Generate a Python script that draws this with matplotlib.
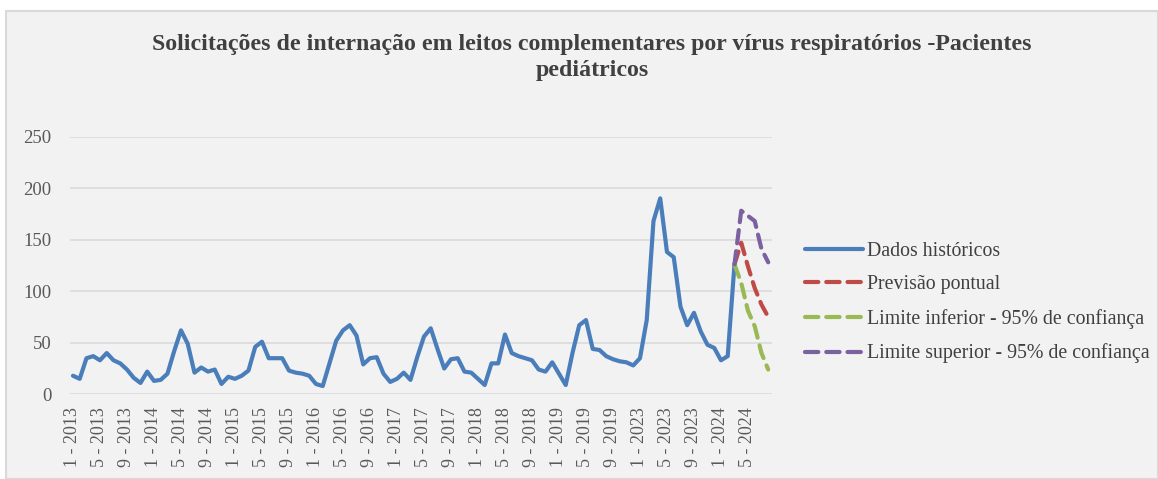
import numpy as np
import matplotlib
matplotlib.use("Agg")
import matplotlib.pyplot as plt
from matplotlib.patches import Rectangle

# months shown on the category axis (2020-2022 are not in the series)
years = [2013, 2014, 2015, 2016, 2017, 2018, 2019, 2023, 2024]
n_months_last = 8

historico = [18, 15, 35, 37, 33, 40, 33, 30, 24, 16, 11, 22,
             13, 14, 20, 42, 62, 49, 21, 26, 22, 24, 10, 17,
             15, 18, 23, 46, 51, 35, 35, 35, 23, 21, 20, 18,
             10, 8, 30, 52, 62, 67, 57, 29, 35, 36, 20, 12,
             15, 21, 14, 36, 56, 64, 44, 25, 34, 35, 22, 21,
             15, 9, 30, 30, 58, 40, 37, 35, 33, 24, 22, 31,
             20, 9, 40, 67, 72, 44, 43, 37, 34, 32, 31, 28,
             35, 72, 168, 190, 138, 133, 85, 67, 79, 61, 48, 45,
             33, 37, 126]
previsao = [126, 147, 124, 103, 87, 75]
lim_inf = [126, 108, 81, 66, 40, 24]
lim_sup = [126, 178, 173, 168, 141, 128]

labels = []
for y in years:
    last = n_months_last if y == years[-1] else 12
    for m in range(1, last + 1):
        labels.append(f"{m} - {y}")

x_hist = np.arange(len(historico))
start = len(historico) - 1
x_prev = np.arange(start, start + len(previsao))

plt.rcParams['font.family'] = ['Liberation Serif', 'DejaVu Serif']

fig = plt.figure(figsize=(11.58, 4.79), dpi=100, facecolor="white")
bg = Rectangle((6 / 1158, 0), 1 - 6 / 1158, 1 - 11 / 479, transform=fig.transFigure,
               facecolor="#f2f2f2", edgecolor="#d9d9d9", lw=1.5, zorder=-10)
fig.patches.append(bg)

ax = fig.add_axes([69.6 / 1158, 1 - 394.3 / 479, 702 / 1158, (394.3 - 136.5) / 479])
ax.set_facecolor("none")

lw = 3.0
ax.plot(x_hist, historico, color="#4a7ebb", lw=lw, solid_joinstyle="round",
        solid_capstyle="round", label="Dados históricos", zorder=3)
ax.plot(x_prev, previsao, color="#be4b48", lw=lw, dashes=(3.2, 1.9),
        dash_capstyle="round", label="Previsão pontual", zorder=4)
ax.plot(x_prev, lim_inf, color="#98b954", lw=lw, dashes=(3.2, 1.9),
        dash_capstyle="round", label="Limite inferior - 95% de confiança", zorder=4)
ax.plot(x_prev, lim_sup, color="#7d60a0", lw=lw, dashes=(3.2, 1.9),
        dash_capstyle="round", label="Limite superior - 95% de confiança", zorder=5)

ax.set_xlim(-0.5, len(labels) - 0.5)
ax.set_ylim(0, 250)
ax.set_yticks([0, 50, 100, 150, 200, 250])
ax.set_xticks(np.arange(0, len(labels), 4))
ax.set_xticklabels(labels[::4], rotation=90, fontsize=13, color="#595959")
ax.tick_params(axis="x", length=0, pad=9)
ax.tick_params(axis="y", length=0, pad=13, labelsize=13.5, labelcolor="#595959")
ax.grid(axis="y", color="#d9d9d9", lw=1.1)
ax.set_axisbelow(True)
for s in ax.spines.values():
    s.set_visible(False)

fig.text(592 / 1158, 1 - 57.5 / 479,
         "Solicitações de internação em leitos complementares por vírus respiratórios -Pacientes\npediátricos",
         ha="center", va="center", fontsize=17.2, fontweight="bold", color="#404040",
         linespacing=1.32)

leg = fig.legend(loc="center left", bbox_to_anchor=(805 / 1158, 1 - 302.5 / 479),
                 frameon=False, fontsize=14.3, handlelength=2.9, handletextpad=0.2,
                 labelspacing=0.74, borderpad=0, borderaxespad=0)
for t in leg.get_texts():
    t.set_color("#404040")

fig.savefig("out.png", dpi=100, facecolor="white")
